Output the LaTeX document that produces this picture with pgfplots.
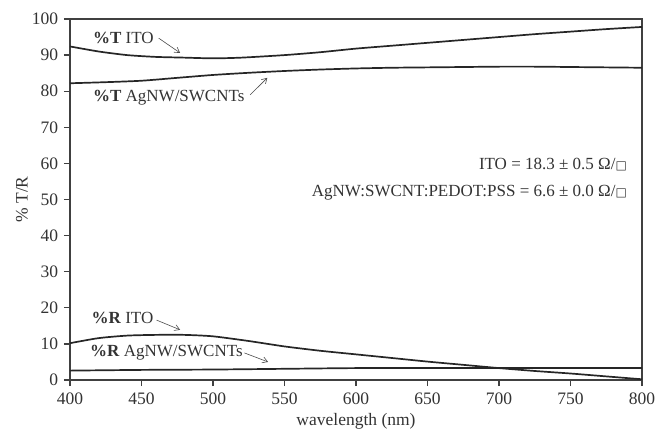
\documentclass[border=0pt]{standalone}
\usepackage{fontspec}
\setmainfont{Liberation Serif}
\newfontfamily\symfont{DejaVu Sans}
\usepackage{pgfplots}
\pgfplotsset{compat=1.18}
\usetikzlibrary{arrows.meta}
\newcommand{\sq}{{\symfont\scalebox{0.7}{□}}}
\begin{document}
\fontsize{17}{20}\selectfont
\begin{tikzpicture}[arr/.style={-{Straight Barb[length=5pt,width=6pt]}, black!70, line width=0.6pt}]
\begin{axis}[
  at={(0,0)}, anchor=south west,
  scale only axis,
  width=572pt, height=361pt,
  xmin=400, xmax=800, ymin=0, ymax=100,
  xtick={400,450,...,800}, ytick={0,10,...,100},
  tick align=outside, xtick pos=bottom, ytick pos=left,
  major tick length=6pt,
  axis line style={line width=1.3pt, black!75},
  tick style={line width=1.3pt, black!75},
  /pgf/number format/assume math mode=true,
  /pgf/number format/1000 sep={},
  tick label style={font=\fontsize{17.5}{20}\selectfont, text=black!80},
  label style={font=\fontsize{17.5}{20}\selectfont, text=black!80},
  xticklabel style={yshift=-1pt},
  xlabel={wavelength (nm)}, ylabel={\% T/R},
  xlabel style={at={(axis description cs:0.5,-0.114)}, anchor=center},
  ylabel style={at={(axis description cs:-0.084,0.5)}, anchor=center},
]
% %T ITO
\addplot[line width=1.7pt, black!85, smooth, tension=0.4] coordinates {(400,92.4)(420,91.0)(440,90.0)(460,89.5)(480,89.3)(500,89.1)(520,89.3)(550,90.0)(575,90.8)(600,91.8)(625,92.6)(650,93.4)(675,94.2)(700,95.0)(725,95.8)(750,96.5)(775,97.2)(800,97.8)};
% %T AgNW/SWCNTs
\addplot[line width=1.7pt, black!85, smooth, tension=0.4] coordinates {(400,82.2)(425,82.5)(450,82.9)(475,83.7)(500,84.5)(525,85.1)(550,85.6)(575,86.0)(600,86.3)(625,86.5)(650,86.6)(675,86.7)(700,86.8)(725,86.8)(750,86.7)(775,86.6)(800,86.5)};
% %R ITO
\addplot[line width=1.7pt, black!85, smooth, tension=0.4] coordinates {(400,10.2)(420,11.6)(440,12.3)(460,12.5)(480,12.5)(500,12.1)(525,10.8)(550,9.3)(575,8.1)(600,7.1)(625,6.1)(650,5.1)(675,4.2)(700,3.3)(725,2.5)(750,1.8)(775,1.0)(800,0.2)};
% %R AgNW/SWCNTs
\addplot[line width=1.7pt, black!85, smooth, tension=0.4] coordinates {(400,2.6)(450,2.8)(500,2.9)(550,3.1)(600,3.3)(650,3.3)(700,3.3)(750,3.3)(800,3.3)};

\node[anchor=west, inner sep=0pt, text=black!80] at (axis cs:416,94.7) {\textbf{\%T} ITO};
\draw[arr] (axis cs:462,94.7) -- (axis cs:477,90.6);
\node[anchor=west, inner sep=0pt, text=black!80] at (axis cs:416,78.1) {\textbf{\%T} AgNW/SWCNTs};
\draw[arr] (axis cs:526,79.0) -- (axis cs:538,83.7);
\node[anchor=west, inner sep=0pt, text=black!80] at (axis cs:415,17.2) {\textbf{\%R} ITO};
\draw[arr] (axis cs:460.5,16.6) -- (axis cs:477,13.9);
\node[anchor=west, inner sep=0pt, text=black!80] at (axis cs:414,7.5) {\textbf{\%R} AgNW/SWCNTs};
\draw[arr] (axis cs:522,7.5) -- (axis cs:538.5,5.0);

\node[anchor=east, inner sep=0pt, text=black!80] at (axis cs:789.5,59.6) {ITO = 18.3 ± 0.5 Ω/\sq};
\node[anchor=east, inner sep=0pt, text=black!80] at (axis cs:789.5,51.8) {AgNW:SWCNT:PEDOT:PSS = 6.6 ± 0.0 Ω/\sq};
\end{axis}
\pgfresetboundingbox
\useasboundingbox (-70pt,-52pt) rectangle (586pt,380pt);
\end{tikzpicture}
\end{document}
